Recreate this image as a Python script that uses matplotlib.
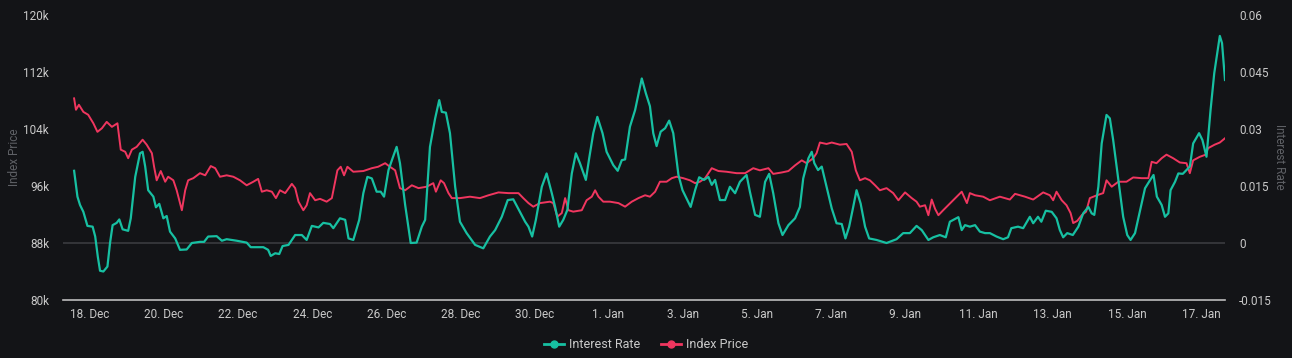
import numpy as np
import pandas as pd
import matplotlib
matplotlib.use("Agg")
import matplotlib.pyplot as plt
from matplotlib.lines import Line2D

# days after 18 Dec 2024 00:00
price_days = [-0.43, -0.38, -0.30, -0.18, -0.05, 0.09, 0.20, 0.32, 0.45, 0.59, 0.74, 0.83, 0.95, 1.03,
              1.13, 1.26, 1.42, 1.53, 1.67, 1.73, 1.80, 1.91, 2.03, 2.11, 2.25, 2.34, 2.48, 2.57, 2.65,
              2.79, 2.97, 3.11, 3.26, 3.38, 3.51, 3.69, 3.87, 4.05, 4.23, 4.41, 4.54, 4.64, 4.77, 4.91,
              5.02, 5.13, 5.27, 5.45, 5.54, 5.63, 5.76, 5.85, 5.94, 6.08, 6.21, 6.39, 6.53, 6.62, 6.68,
              6.77, 6.86, 6.95, 7.11, 7.38, 7.61, 7.78, 7.97, 8.10, 8.24, 8.37, 8.51, 8.69, 8.87, 9.09,
              9.27, 9.34, 9.47, 9.56, 9.68, 9.77, 9.99, 10.26, 10.53, 10.76, 11.03, 11.30, 11.57, 11.70,
              11.84, 11.97, 12.15, 12.42, 12.51, 12.62, 12.74, 12.83, 12.92, 13.05, 13.28, 13.41, 13.55,
              13.64, 13.73, 13.86, 14.04, 14.27, 14.45, 14.63, 14.81, 14.99, 15.12, 15.26, 15.39, 15.57,
              15.71, 15.84, 16.02, 16.20, 16.34, 16.47, 16.61, 16.79, 16.97, 17.19, 17.46, 17.69, 17.91,
              18.09, 18.32, 18.45, 18.68, 18.86, 19.04, 19.22, 19.35, 19.53, 19.62, 19.71, 19.89, 20.03,
              20.25, 20.43, 20.57, 20.68, 20.79, 20.93, 21.06, 21.20, 21.33, 21.51, 21.69, 21.83, 22.01,
              22.19, 22.32, 22.41, 22.55, 22.64, 22.73, 22.82, 22.91, 23.04, 23.27, 23.54, 23.68, 23.76,
              23.90, 24.12, 24.30, 24.57, 24.84, 24.98, 25.25, 25.47, 25.74, 25.92, 26.01, 26.10, 26.24,
              26.37, 26.48, 26.55, 26.66, 26.78, 26.90, 27.00, 27.19, 27.36, 27.45, 27.59, 27.77, 27.99,
              28.17, 28.40, 28.58, 28.67, 28.80, 28.94, 29.07, 29.25, 29.43, 29.61, 29.70, 29.79, 29.97,
              30.13, 30.19, 30.37, 30.51, 30.65]
index_price = [108.3, 106.7, 107.4, 106.4, 106.0, 104.8, 103.6, 104.1, 105.0, 104.3, 104.8, 101.1, 100.8, 99.9,
               101.1, 101.5, 102.5, 101.8, 100.6, 98.7, 96.8, 98.1, 96.6, 97.3, 96.8, 95.4, 92.6, 95.4, 96.8,
               97.1, 97.8, 97.5, 98.8, 98.5, 97.3, 97.5, 97.3, 96.8, 96.1, 96.6, 97.0, 95.2, 95.4, 95.2,
               94.3, 95.4, 95.0, 96.3, 95.7, 93.8, 92.6, 93.3, 95.0, 94.0, 94.2, 93.8, 94.3, 96.6, 98.2,
               98.7, 97.5, 98.7, 98.0, 98.1, 98.5, 98.7, 99.2, 98.7, 98.2, 95.7, 95.4, 96.1, 95.7, 95.9,
               96.4, 95.2, 96.8, 96.4, 95.0, 94.3, 94.3, 94.5, 94.3, 94.7, 95.1, 95.0, 95.0, 94.3,
               93.6, 93.1, 93.6, 93.8, 93.6, 91.7, 92.2, 94.3, 92.6, 92.4, 92.6, 94.0, 94.5,
               95.4, 94.5, 93.8, 93.8, 93.6, 93.1, 93.8, 94.3, 94.7, 94.5, 95.2, 96.6, 96.6,
               97.1, 97.3, 97.1, 96.8, 96.4, 96.6, 97.1, 98.5, 98.1, 98.0, 97.8, 97.8, 98.5,
               98.2, 98.5, 97.7, 97.9, 98.1, 98.9, 99.6, 99.2, 99.9, 100.6, 102.1, 101.9, 102.1,
               101.8, 101.9, 100.8, 98.2, 96.8, 97.1, 96.8, 96.1, 95.4, 95.7, 95.0, 94.0, 95.1,
               94.3, 93.8, 93.1, 93.3, 91.9, 94.1, 92.8, 91.9, 92.6, 93.8, 95.2, 93.6, 95.0,
               94.7, 94.5, 94.0, 94.5, 94.1, 94.9, 94.5, 94.1, 95.1, 94.7, 94.0, 95.2, 94.0,
               93.3, 92.2, 90.8, 91.1, 91.9, 92.4, 94.3, 94.7, 95.0, 96.8, 95.9, 96.6, 96.6,
               97.2, 97.1, 97.1, 99.4, 99.2, 99.9, 100.4, 99.9, 99.3, 99.2, 97.8, 99.6, 100.1,
               100.4, 101.3, 101.8, 102.1, 102.7]

rate_days = [-0.43, -0.34, -0.27, -0.18, -0.07, 0.07, 0.14, 0.21, 0.27, 0.36, 0.47, 0.54, 0.61, 0.72, 0.79,
             0.88, 1.03, 1.10, 1.22, 1.35, 1.42, 1.49, 1.57, 1.71, 1.78, 1.87, 1.98, 2.07, 2.16, 2.30,
             2.43, 2.61, 2.75, 2.97, 3.08, 3.19, 3.42, 3.56, 3.69, 3.96, 4.23, 4.34, 4.68, 4.81, 4.88,
             5.00, 5.11, 5.20, 5.36, 5.54, 5.72, 5.85, 5.99, 6.17, 6.30, 6.48, 6.57, 6.75, 6.89, 6.98,
             7.11, 7.27, 7.38, 7.49, 7.61, 7.74, 7.85, 7.94, 8.06, 8.17, 8.28, 8.37, 8.51, 8.66, 8.82,
             8.96, 9.05, 9.18, 9.32, 9.43, 9.50, 9.61, 9.72, 9.86, 9.99, 10.17, 10.40, 10.62, 10.80,
             10.94, 11.12, 11.28, 11.43, 11.61, 11.75, 11.84, 11.94, 12.04, 12.20, 12.33, 12.47, 12.56,
             12.67, 12.78, 12.89, 13.01, 13.12, 13.23, 13.39, 13.48, 13.59, 13.70, 13.84, 13.95, 14.13,
             14.25, 14.36, 14.45, 14.58, 14.72, 14.90, 15.01, 15.12, 15.21, 15.30, 15.41, 15.53, 15.64,
             15.75, 15.89, 16.00, 16.11, 16.22, 16.34, 16.45, 16.58, 16.70, 16.79, 16.88, 17.01, 17.15,
             17.28, 17.42, 17.55, 17.73, 17.82, 17.96, 18.09, 18.23, 18.34, 18.45, 18.59, 18.70, 18.86,
             19.04, 19.17, 19.26, 19.40, 19.49, 19.56, 19.66, 19.76, 19.89, 20.03, 20.16, 20.30, 20.40,
             20.50, 20.61, 20.70, 20.81, 20.93, 21.04, 21.24, 21.51, 21.78, 21.96, 22.14, 22.32, 22.46,
             22.64, 22.77, 22.95, 23.11, 23.22, 23.45, 23.54, 23.63, 23.76, 23.90, 24.03, 24.17, 24.30,
             24.48, 24.66, 24.79, 24.88, 25.06, 25.20, 25.38, 25.47, 25.60, 25.69, 25.81, 25.97, 26.10,
             26.19, 26.28, 26.39, 26.54, 26.69, 26.82, 26.96, 27.05, 27.12, 27.23, 27.32, 27.45, 27.54,
             27.63, 27.77, 27.90, 28.01, 28.10, 28.22, 28.36, 28.49, 28.63, 28.72, 28.81, 28.94, 29.03,
             29.12, 29.18, 29.30, 29.39, 29.51, 29.61, 29.70, 29.79, 29.95, 30.04, 30.15, 30.26, 30.36,
             30.51, 30.57, 30.65]
interest_rate = [0.0190, 0.0122, 0.0100, 0.0082, 0.0045, 0.0043, 0.0017, -0.0036, -0.0073, -0.0075, -0.0062, 0.0, 0.0047, 0.0053, 0.0062,
                 0.0036, 0.0032, 0.0065, 0.0174, 0.0236, 0.0240, 0.0201, 0.0139, 0.0122, 0.0094, 0.0103, 0.0065, 0.0071, 0.0030, 0.0012,
                 -0.0018, -0.0017, 0.0, 0.0003, 0.0003, 0.0017, 0.0018, 0.0006, 0.0010, 0.0006, 0.0001, -0.0011, -0.0011, -0.0018, -0.0034,
                 -0.0027, -0.0029, -0.0008, -0.0005, 0.0021, 0.0021, 0.0008, 0.0045, 0.0041, 0.0053, 0.0050, 0.0039, 0.0065, 0.0061, 0.0012,
                 0.0008, 0.0061, 0.0131, 0.0174, 0.0170, 0.0135, 0.0135, 0.0122, 0.0192, 0.0223, 0.0253, 0.0210, 0.0100, 0.0, 0.0001,
                 0.0043, 0.0061, 0.0253, 0.0328, 0.0376, 0.0345, 0.0343, 0.0289, 0.0148, 0.0056, 0.0026, -0.0005, -0.0014, 0.0017,
                 0.0034, 0.0069, 0.0113, 0.0115, 0.0082, 0.0056, 0.0043, 0.0017, 0.0061, 0.0148, 0.0183, 0.0131, 0.0095,
                 0.0043, 0.0061, 0.0087, 0.0183, 0.0236, 0.0210, 0.0166, 0.0223, 0.0289, 0.0332, 0.0289, 0.0240, 0.0205,
                 0.0190, 0.0218, 0.0220, 0.0306, 0.0350, 0.0433, 0.0394, 0.0360, 0.0289, 0.0255, 0.0293, 0.0302, 0.0322,
                 0.0289, 0.0179, 0.0139, 0.0117, 0.0095, 0.0139, 0.0173, 0.0166, 0.0174, 0.0153, 0.0166, 0.0113, 0.0113,
                 0.0148, 0.0131, 0.0161, 0.0179, 0.0135, 0.0074, 0.0069, 0.0161, 0.0182, 0.0131, 0.0052, 0.0021, 0.0047,
                 0.0065, 0.0095, 0.0170, 0.0223, 0.0240, 0.0210, 0.0192, 0.0201, 0.0148, 0.0091, 0.0052, 0.0050, 0.0012,
                 0.0043, 0.0095, 0.0139, 0.0104, 0.0043, 0.0012, 0.0008, 0.0, 0.0010, 0.0026, 0.0026, 0.0045, 0.0034,
                 0.0008, 0.0015, 0.0021, 0.0015, 0.0056, 0.0068, 0.0034, 0.0047, 0.0043, 0.0047, 0.0030, 0.0026, 0.0026,
                 0.0017, 0.0010, 0.0015, 0.0039, 0.0043, 0.0039, 0.0069, 0.0052, 0.0069, 0.0056, 0.0085, 0.0082, 0.0065,
                 0.0034, 0.0015, 0.0026, 0.0021, 0.0043, 0.0078, 0.0095, 0.0078, 0.0074, 0.0148, 0.0262, 0.0337, 0.0328,
                 0.0271, 0.0166, 0.0069, 0.0021, 0.0008, 0.0026, 0.0087, 0.0144, 0.0166, 0.0179, 0.0122, 0.0100, 0.0069,
                 0.0078, 0.0139, 0.0161, 0.0183, 0.0182, 0.0192, 0.0201, 0.0262, 0.0289, 0.0271, 0.0227, 0.0350, 0.0447,
                 0.0545, 0.0526, 0.0429]

tick_days = list(range(0, 31, 2))
tick_labels = ["18. Dec", "20. Dec", "22. Dec", "24. Dec", "26. Dec", "28. Dec", "30. Dec", "1. Jan",
               "3. Jan", "5. Jan", "7. Jan", "9. Jan", "11. Jan", "13. Jan", "15. Jan", "17. Jan"]

start = pd.Timestamp("2024-12-18")
price_t = start + pd.to_timedelta(price_days, unit="D")
rate_t = start + pd.to_timedelta(rate_days, unit="D")
tick_t = start + pd.to_timedelta(tick_days, unit="D")

BG = "#131417"
TEAL = "#17c0a2"
PINK = "#f0365f"
TXT = "#c9c9c9"
TITLE = "#5f6166"

plt.rcParams['font.family'] = ['Roboto', 'DejaVu Sans']

W, H = 1292, 358
fig = plt.figure(figsize=(W / 100, H / 100), dpi=100, facecolor=BG)
ax = fig.add_axes([63 / W, 1 - 300 / H, (1225 - 63) / W, 285 / H])
ax.set_facecolor(BG)
ax2 = ax.twinx()

ax.plot(price_t, index_price, color=PINK, lw=1.4, zorder=3)
ax2.plot(rate_t, interest_rate, color=TEAL, lw=1.6, zorder=2)

ax.set_ylim(80, 120)
ax.set_yticks([80, 88, 96, 104, 112, 120])
ax.set_yticklabels(["80k", "88k", "96k", "104k", "112k", "120k"])
ax2.set_ylim(-0.015, 0.06)
ax2.set_yticks([-0.015, 0, 0.015, 0.03, 0.045, 0.06])
ax2.set_yticklabels(["-0.015", "0", "0.015", "0.03", "0.045", "0.06"])

ax.set_xlim(start + pd.Timedelta(days=-0.73), start + pd.Timedelta(days=30.65))
ax.set_xticks(tick_t)
ax.set_xticklabels(tick_labels)

ax2.axhline(0, color="#3a3b3f", lw=1.2, zorder=1)

for a in (ax, ax2):
    for s in a.spines.values():
        s.set_visible(False)
    a.tick_params(length=0, colors=TXT, labelsize=8.5)
ax.spines["bottom"].set_visible(True)
ax.spines["bottom"].set_color("#bdbdbd")
ax.spines["bottom"].set_linewidth(1.2)
ax.tick_params(axis="y", pad=10)
ax.tick_params(axis="x", pad=6)
ax2.tick_params(axis="y", pad=10)

# axis titles
fig.text(14 / W, 1 - 157 / H, "Index Price", color=TITLE, fontsize=8.5, rotation=90,
         ha="center", va="center")
fig.text(1279 / W, 1 - 157 / H, "Interest Rate", color=TITLE, fontsize=8.5, rotation=270,
         ha="center", va="center")

handles = [Line2D([], [], color=TEAL, lw=2, marker="o", ms=5),
           Line2D([], [], color=PINK, lw=2, marker="o", ms=5)]
fig.legend(handles, ["Interest Rate", "Index Price"], loc="center", bbox_to_anchor=(0.5, 1 - 345 / H),
           ncol=2, frameon=False, fontsize=9, labelcolor=TXT, handlelength=1.6, columnspacing=1.6,
           handletextpad=0.4)

fig.savefig("out.png", dpi=100, facecolor=BG)
